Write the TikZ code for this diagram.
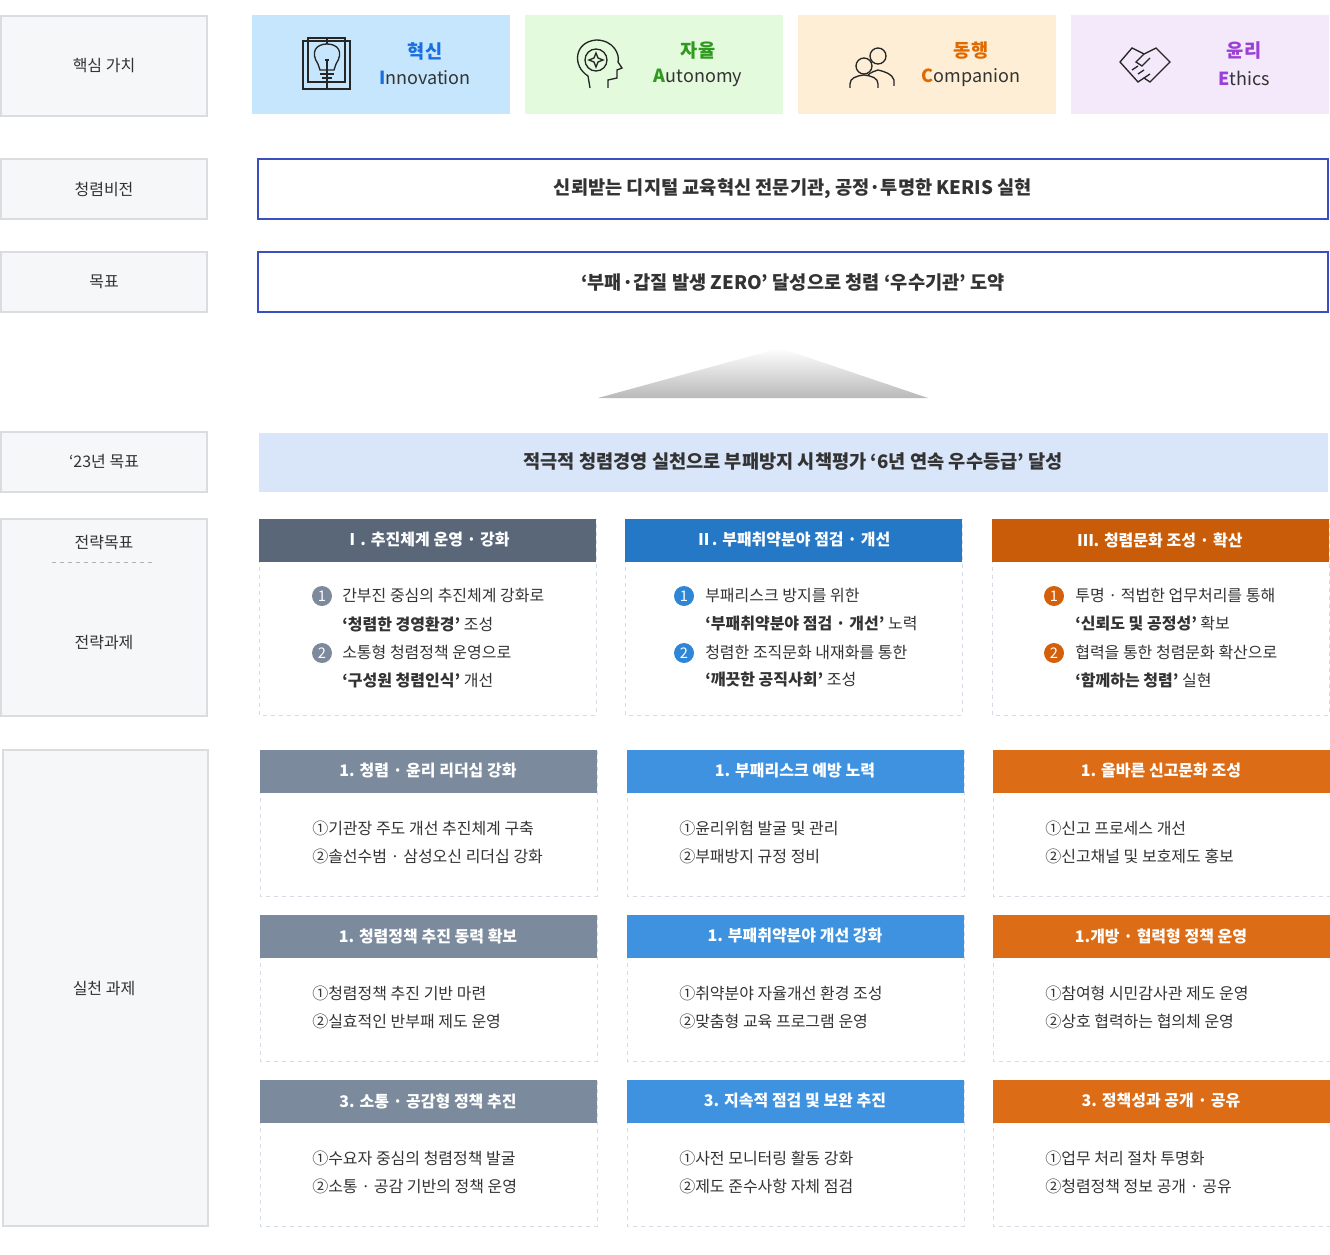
\documentclass[tikz,border=0pt]{standalone}
\usepackage{fontspec}
\setmainfont{Noto Sans CJK KR}
\def\kb{\bfseries}
\usetikzlibrary{shapes.geometric}
\definecolor{lab}{HTML}{F6F7F9}
\definecolor{labd}{HTML}{DADCE0}
\definecolor{txt}{HTML}{333333}
\definecolor{cA}{HTML}{596779}\definecolor{cB}{HTML}{2478C6}\definecolor{cC}{HTML}{C85C08}
\definecolor{pA}{HTML}{7B8A9C}\definecolor{pB}{HTML}{3E92E0}\definecolor{pC}{HTML}{DC6C16}
\definecolor{nA}{HTML}{7D8A9B}\definecolor{nB}{HTML}{2F86D6}\definecolor{nC}{HTML}{D4600C}
\definecolor{vb}{HTML}{3A4FC0}
\definecolor{bd}{HTML}{D5DCE6}
\definecolor{f1}{RGB}{197,230,252}\definecolor{f2}{RGB}{227,250,220}
\definecolor{f3}{RGB}{253,238,213}\definecolor{f4}{RGB}{243,233,250}
\definecolor{t1}{RGB}{26,111,224}\definecolor{t2}{RGB}{47,154,31}
\definecolor{t3}{RGB}{224,106,0}\definecolor{t4}{RGB}{155,63,214}
\definecolor{g23c}{RGB}{217,230,250}
\begin{document}
\begin{tikzpicture}[x=0.75pt,y=-0.75pt,font=\fontsize{12}{14}\selectfont, text=txt,
 labbox/.style={draw=labd,fill=lab,line width=0.8pt},
 item/.style={anchor=west,inner sep=0pt},
 num/.style={circle,fill=#1,text=white,minimum size=15pt,inner sep=0pt,font=\fontsize{11}{11}\selectfont},
 icon/.style={draw=black!85,line width=1pt},
 vt/.style={font=\kb\fontsize{14}{16}\selectfont,text=#1},
 ve/.style={font=\fontsize{13.5}{16}\selectfont}]
\useasboundingbox (0,0) rectangle (1330,1255);
% left labels
\draw[labbox] (1,16) rectangle (207,116); \node (l1) at (104,66) {핵심 가치};
\draw[labbox] (1,159) rectangle (207,219); \node (l2) at (104,189) {청렴비전};
\draw[labbox] (1,252) rectangle (207,312); \node (l3) at (104,282) {목표};
\draw[labbox] (1,432) rectangle (207,492); \node (l4) at (104,462) {‘23년 목표};
\draw[labbox] (1,519) rectangle (207,716); \node (l5) at (104,543) {전략목표};
\draw[gray!60,dashed] (52,562) -- (156,562);
\node (l6) at (104,643) {전략과제};
\draw[labbox] (3,750) rectangle (208,1226); \node (l7) at (104,988) {실천 과제};
% core values
\fill[f1] (252,15) rectangle (510,114);
\fill[f2] (525,15) rectangle (783,114);
\fill[f3] (798,15) rectangle (1056,114);
\fill[f4] (1071,15) rectangle (1329,114);
\node[vt=t1] (v1) at (425,51) {혁신};
\node[ve] (v1e) at (425,78) {\textcolor{t1}{\kb I}nnovation};
\node[vt=t2] (v2) at (698,51) {자율};
\node[ve] (v2e) at (698,78) {\textcolor{t2}{\kb A}utonomy};
\node[vt=t3] (v3) at (971,51) {동행};
\node[ve] (v3e) at (971,78) {\textcolor{t3}{\kb C}ompanion};
\node[vt=t4] (v4) at (1244,51) {윤리};
\node[ve] (v4e) at (1244,78) {\textcolor{t4}{\kb E}thics};
% icon 1 book+bulb
\draw[icon] (303,41) rectangle (350,89); \draw[icon] (308,38) rectangle (345,82);
\draw[icon] (327,38) -- (327,89);
\draw[icon,fill=f1] (318,64) .. controls (310,52) and (316,44) .. (327,44) .. controls (338,44) and (344,52) .. (336,64) -- (334,70) -- (320,70) -- cycle;
\draw[icon] (320,74)--(334,74) (322,78)--(332,78) (325,60)--(329,60) (327,60)--(327,70);
% icon 2 head
\draw[icon] (590,88) -- (588,76) .. controls (572,66) and (574,42) .. (596,40) .. controls (614,40) and (620,55) .. (618,62) -- (622,68) -- (617,70) -- (617,78) -- (608,80) -- (608,88);
\draw[icon] (596,60) circle (11);
\draw[icon] (596,53) -- (598,58) -- (603,60) -- (598,62) -- (596,67) -- (594,62) -- (589,60) -- (594,58) -- cycle;
% icon 3 people
\draw[icon] (878,56) circle (8); \draw[icon] (864,66) circle (8);
\draw[icon] (866,86) -- (866,80) .. controls (866,74) and (872,72) .. (878,70) .. controls (886,72) and (892,74) .. (894,80) -- (894,86);
\draw[icon,fill=f3] (850,88) -- (850,84) .. controls (850,78) and (856,76) .. (864,75) .. controls (872,76) and (878,78) .. (878,84) -- (878,88);
% icon 4 handshake
\draw[icon] (1120,62) -- (1132,48) -- (1144,54) -- (1156,48) -- (1170,62) -- (1150,82) -- (1144,78) -- (1138,82) -- cycle;
\draw[icon] (1144,54) -- (1136,62) -- (1142,66) -- (1150,58) (1132,70)--(1138,66) (1138,74)--(1144,70) (1144,78)--(1150,74);
% vision, goal
\draw[vb,line width=0.8pt,fill=white] (258,159) rectangle (1328,219);
\node[vt=txt] (vis) at (793,189) {신뢰받는 디지털 교육혁신 전문기관, 공정·투명한 KERIS 실현};
\draw[vb,line width=0.8pt,fill=white] (258,252) rectangle (1328,312);
\node[vt=txt] (goal) at (793,282) {‘부패·갑질 발생 ZERO’ 달성으로 청렴 ‘우수기관’ 도약};
% triangle
\shade[top color=white,bottom color=gray!55] (780,348) -- (928,398) -- (598,398) -- cycle;
% 23 goal
\fill[g23c] (259,433) rectangle (1328,492);
\node[vt=txt] (g23) at (793,462) {적극적 청렴경영 실천으로 부패방지 시책평가 ‘6년 연속 우수등급’ 달성};
% strategy columns
\foreach \x/\c/\h in {259/cA/Ⅰ. 추진체계 운영 · 강화, 625/cB/Ⅱ. 부패취약분야 점검 · 개선, 992/cC/Ⅲ. 청렴문화 조성 · 확산}{
 \draw[bd,dashed] (\x,519) rectangle (\x+337,715);
 \fill[\c] (\x,519) rectangle (\x+337,562);
 \node[text=white,font=\kb\fontsize{12}{14}\selectfont] at (\x+168,540) {\h};
}
\node[num=nA] (a1) at (322,596) {1}; \node[item] (a1t) at (342,596) {간부진 중심의 추진체계 강화로};
\node[item] (a1u) at (342,624) {{\kb ‘청렴한 경영환경’} 조성};
\node[num=nA] (a2) at (322,653) {2}; \node[item] (a2t) at (342,652) {소통형 청렴정책 운영으로};
\node[item] (a2u) at (342,680) {{\kb ‘구성원 청렴인식’} 개선};
\node[num=nB] (b1) at (684,596) {1}; \node[item] (b1t) at (705,596) {부패리스크 방지를 위한};
\node[item] (b1u) at (705,624) {{\kb ‘부패취약분야 점검 · 개선’} 노력};
\node[num=nB] (b2) at (684,653) {2}; \node[item] (b2t) at (705,652) {청렴한 조직문화 내재화를 통한};
\node[item] (b2u) at (705,680) {{\kb ‘깨끗한 공직사회’} 조성};
\node[num=nC] (c1) at (1054,596) {1}; \node[item] (c1t) at (1075,596) {투명 · 적법한 업무처리를 통해};
\node[item] (c1u) at (1075,624) {{\kb ‘신뢰도 및 공정성’} 확보};
\node[num=nC] (c2) at (1054,653) {2}; \node[item] (c2t) at (1075,652) {협력을 통한 청렴문화 확산으로};
\node[item] (c2u) at (1075,680) {{\kb ‘함께하는 청렴’} 실현};
% practice boxes
\foreach \x/\c/\tx/\ha/\ia/\ib in {
 260/pA/312/1. 청렴 · 윤리 리더십 강화/{①기관장 주도 개선 추진체계 구축}/{②솔선수범 · 삼성오신 리더십 강화},
 627/pB/679/1. 부패리스크 예방 노력/{①윤리위험 발굴 및 관리}/{②부패방지 규정 정비},
 993/pC/1045/1. 올바른 신고문화 조성/{①신고 프로세스 개선}/{②신고채널 및 보호제도 홍보}}{
 \draw[bd,dashed] (\x,750) rectangle (\x+337,896); \fill[\c] (\x,750) rectangle (\x+337,793);
 \node[text=white,font=\kb\fontsize{12}{14}\selectfont] at (\x+168,771) {\ha};
 \node[item] at (\tx,828) {\ia}; \node[item] at (\tx,856) {\ib};}
\foreach \x/\c/\tx/\ha/\ia/\ib in {
 260/pA/312/1. 청렴정책 추진 동력 확보/{①청렴정책 추진 기반 마련}/{②실효적인 반부패 제도 운영},
 627/pB/679/1. 부패취약분야 개선 강화/{①취약분야 자율개선 환경 조성}/{②맞춤형 교육 프로그램 운영},
 993/pC/1045/1.개방 · 협력형 정책 운영/{①참여형 시민감사관 제도 운영}/{②상호 협력하는 협의체 운영}}{
 \draw[bd,dashed] (\x,915) rectangle (\x+337,1061); \fill[\c] (\x,915) rectangle (\x+337,958);
 \node[text=white,font=\kb\fontsize{12}{14}\selectfont] at (\x+168,936) {\ha};
 \node[item] at (\tx,993) {\ia}; \node[item] at (\tx,1021) {\ib};}
\foreach \x/\c/\tx/\ha/\ia/\ib in {
 260/pA/312/3. 소통 · 공감형 정책 추진/{①수요자 중심의 청렴정책 발굴}/{②소통 · 공감 기반의 정책 운영},
 627/pB/679/3. 지속적 점검 및 보완 추진/{①사전 모니터링 활동 강화}/{②제도 준수사항 자체 점검},
 993/pC/1045/3. 정책성과 공개 · 공유/{①업무 처리 절차 투명화}/{②청렴정책 정보 공개 · 공유}}{
 \draw[bd,dashed] (\x,1080) rectangle (\x+337,1226); \fill[\c] (\x,1080) rectangle (\x+337,1123);
 \node[text=white,font=\kb\fontsize{12}{14}\selectfont] at (\x+168,1101) {\ha};
 \node[item] at (\tx,1158) {\ia}; \node[item] at (\tx,1186) {\ib};}
\end{tikzpicture}
\end{document}
